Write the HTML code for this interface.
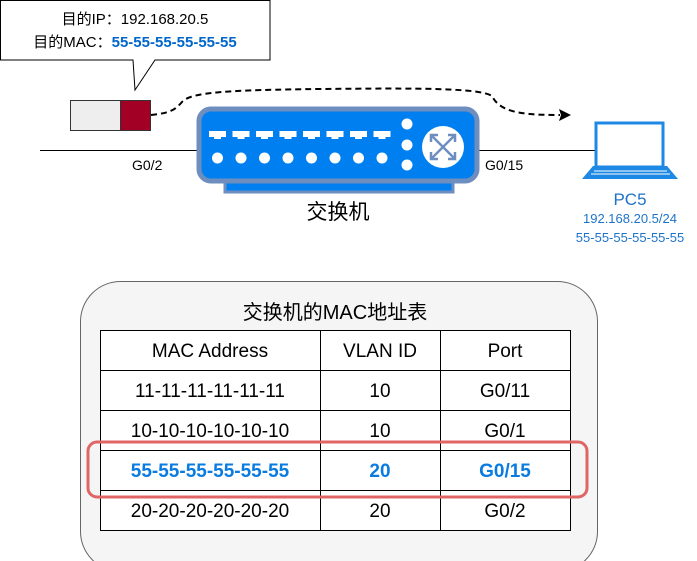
<!DOCTYPE html>
<html><head><meta charset="utf-8"><style>
body{margin:0;background:#fff;}
svg{display:block;font-family:"Liberation Sans","Noto Sans CJK SC",sans-serif;}
</style></head><body>
<svg width="697" height="561" viewBox="0 0 697 561">
<path d="M0.5,0.5 H270 V60 H155 L135,90 L133,60 H0.5 Z" fill="#fff" stroke="#000"/>
<text x="135" y="24" font-size="15" text-anchor="middle">目的IP：192.168.20.5</text>
<text x="135" y="47" font-size="15" text-anchor="middle">目的MAC：<tspan fill="#0066cc" font-weight="bold">55-55-55-55-55-55</tspan></text>
<rect x="70.5" y="100.5" width="50" height="30" fill="#eeeeee" stroke="#333"/>
<rect x="120.5" y="100.5" width="30" height="30" fill="#a20025" stroke="#333"/>
<path d="M151,115 C170,113 175,110 182,102 C190,92 230,90 320,89 C420,88 480,88 492,96 C500,112 520,115 560,115" fill="none" stroke="#000" stroke-width="2" stroke-dasharray="6,4"/>
<path d="M571,115 L559,109 L561,115 L559,121 Z" fill="#000"/>
<line x1="40" y1="150.5" x2="200" y2="150.5" stroke="#000"/>
<line x1="476" y1="150.5" x2="596" y2="150.5" stroke="#000"/>
<text x="132" y="170" font-size="14">G0/2</text>
<text x="485" y="170" font-size="14">G0/15</text>
<rect x="225" y="175" width="228" height="17" fill="#0080f0" stroke="#6d8ebf" stroke-width="3"/>
<rect x="199" y="109" width="278" height="72" rx="12" fill="#0080f0" stroke="#6d8ebf" stroke-width="5"/>
<g fill="#fff">
<g id="p"><rect x="209" y="131" width="17" height="6"/><rect x="214" y="136" width="7" height="3"/><circle cx="217.5" cy="158" r="5.5"/></g>
<use href="#p" x="23.5"/><use href="#p" x="47"/><use href="#p" x="70.5"/><use href="#p" x="94"/><use href="#p" x="117.5"/><use href="#p" x="141"/><use href="#p" x="164.5"/>
<circle cx="407" cy="124" r="5.5"/><circle cx="407" cy="145" r="5.5"/><circle cx="407" cy="165" r="5.5"/>
<circle cx="443" cy="147" r="21"/>
</g>
<g stroke="#6d8ebf" stroke-width="2.5" fill="none">
<line x1="431" y1="135" x2="455" y2="159"/><line x1="455" y1="135" x2="431" y2="159"/>
<path d="M431,142 V135 H438 M448,135 H455 V142 M455,152 V159 H448 M438,159 H431 V152"/>
</g>
<text x="338" y="219" font-size="21" text-anchor="middle">交换机</text>
<rect x="596" y="123" width="67" height="44" fill="#fff" stroke="#1e88e5" stroke-width="3"/>
<path d="M593,166 H667 L678,179 H582 Z" fill="#1e88e5"/>
<line x1="594" y1="171" x2="667" y2="171" stroke="#fff"/>
<line x1="591" y1="174" x2="670" y2="174" stroke="#fff"/>
<text x="630" y="205" font-size="17" fill="#1e73c8" text-anchor="middle">PC5</text>
<text x="630" y="223" font-size="13" fill="#1e73c8" text-anchor="middle">192.168.20.5/24</text>
<text x="630" y="242" font-size="13" fill="#1e73c8" text-anchor="middle">55-55-55-55-55-55</text>
<rect x="80.5" y="281.5" width="517" height="290" rx="40" fill="#f5f5f5" stroke="#666"/>
<text x="335" y="319" font-size="20" text-anchor="middle">交换机的MAC地址表</text>
<rect x="100.5" y="330.5" width="470" height="200" fill="#fff" stroke="#000"/>
<g stroke="#000">
<line x1="100" y1="370.5" x2="571" y2="370.5"/><line x1="100" y1="410.5" x2="571" y2="410.5"/>
<line x1="100" y1="450.5" x2="571" y2="450.5"/><line x1="100" y1="490.5" x2="571" y2="490.5"/>
<line x1="320.5" y1="330" x2="320.5" y2="531"/><line x1="440.5" y1="330" x2="440.5" y2="531"/>
</g>
<g font-size="19" text-anchor="middle">
<text x="210" y="357">MAC Address</text><text x="380" y="357">VLAN ID</text><text x="505" y="357">Port</text>
<text x="210" y="397">11-11-11-11-11-11</text><text x="380" y="397">10</text><text x="505" y="397">G0/11</text>
<text x="210" y="437">10-10-10-10-10-10</text><text x="380" y="437">10</text><text x="505" y="437">G0/1</text>
<g fill="#0a7be0" font-weight="bold"><text x="210" y="477">55-55-55-55-55-55</text><text x="380" y="477">20</text><text x="505" y="477">G0/15</text></g>
<text x="210" y="517">20-20-20-20-20-20</text><text x="380" y="517">20</text><text x="505" y="517">G0/2</text>
</g>
<rect x="88" y="442" width="499" height="55" rx="9" fill="none" stroke="#e06666" stroke-width="3"/>
</svg>
</body></html>
